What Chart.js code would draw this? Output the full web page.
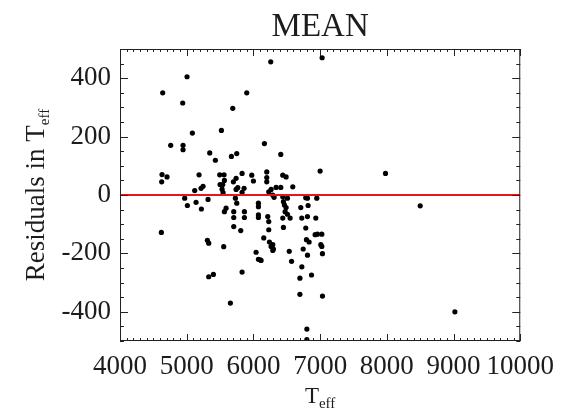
<!DOCTYPE html>
<html>
<head>
<meta charset="utf-8">
<script src="https://cdn.jsdelivr.net/npm/chart.js@4/dist/chart.umd.min.js"></script>
<style>
  html, body { margin: 0; padding: 0; background: #fff; }
  #wrap { width: 564px; height: 412px; }
</style>
</head>
<body>
<div id="wrap"><canvas id="residualChart" width="564" height="412"></canvas></div>
<script>
// --- DATA ---
const TEFF = [
  4640, 5005, 4940, 5690, 5900, 6260, 7030,
  5085, 5520, 4760, 4945, 4945, 5345, 5670, 5750, 5430, 6165, 6410,
  7000, 7980, 8500, 9020,
  4630, 4705, 4625, 5185, 5120, 5215, 5245,
  5495, 5560, 5565, 5500, 5540, 5530, 5545,
  4970, 5010, 5140, 5220, 5320,
  4620, 5310, 5330, 5555, 5590, 5565,
  5330, 5400, 5655,
  5830, 5740, 5700, 5975, 6000, 6200, 6200, 6200, 6440, 6490, 6590,
  6410, 6340, 6265, 6230, 6290, 6310, 5765, 5740, 5860, 5830,
  5730, 5750, 5705, 5705, 5705, 5865, 5865, 5810,
  6075, 6075, 6075, 6075, 6215, 6230, 6230, 6155, 6240, 6290,
  6440, 6450, 6465, 6490, 6475, 6510, 6550, 6440, 6450, 6510,
  6265, 6300, 6290, 6040, 6075, 6100, 6115, 5830, 6537, 6572,
  6710, 6810, 6820, 6950, 6725, 6810, 6935, 6785, 6795, 6835,
  6925, 6960, 7025, 7010, 6785,
  6746, 6811, 7025, 7035, 6726, 6697, 6871, 6697, 7035, 6801, 6801
];
const RESID = [
  350, 405, 315, 297, 350, 456, 470,
  212, 221, 170, 170, 155, 144, 132, 142, 119, 176, 139,
  82, 74, -37, -400,
  70, 62, 45, 69, 15, 23, 30,
  69, 69, 50, 36, 36, 20, 8,
  -11, -36, -25, -48, -15,
  -128, -155, -165, -177, -45, -57,
  -280, -272, -370,
  74, 57, 45, 68, 48, 79, 60, 45, 68, 62, 28,
  26, 26, 19, 11, 0, -8, 25, 19, 23, 9,
  -11, -28, -57, -77, -108, -57, -77, -122,
  -28, -40, -68, -77, -74, -91, -119, -147, -161, -170,
  -6, -23, -34, -43, -57, -66, -79, -79, -111, -11,
  -176, -185, -190, -196, -220, -222, -224, -264, -193, -227,
  -43, -11, -36, -11, -79, -74, -79, -113, -153, -161,
  -136, -134, -134, -170, -9,
  -185, -206, -176, -201, -246, -285, -274, -340, -346, -459, -495
];
const ZERO_LINE_X = [4000, 10000];
const ZERO_LINE_Y = [0, 0];
const X_TICKS = [4000, 5000, 6000, 7000, 8000, 9000, 10000];
const Y_TICKS = [-400, -200, 0, 200, 400];
const X_MINOR_STEP = 100;
const Y_MINOR_STEP = 50;

const SERIF = "'Liberation Serif', 'Times New Roman', serif";
const INK = '#1c1c1c';

// T con subíndice "eff"
function drawTeff(ctx, x, y, prefix, size, subSize, align) {
  ctx.font = `${size}px ${SERIF}`;
  const wMain = ctx.measureText(prefix + 'T').width;
  ctx.font = `${subSize}px ${SERIF}`;
  const wSub = ctx.measureText('eff').width;
  const start = align === 'center' ? x - (wMain + wSub) / 2 : x;
  ctx.textAlign = 'left';
  ctx.textBaseline = 'alphabetic';
  ctx.font = `${size}px ${SERIF}`;
  ctx.fillText(prefix + 'T', start, y);
  ctx.font = `${subSize}px ${SERIF}`;
  ctx.fillText('eff', start + wMain, y + 5);
}

// --- MARCO, MARCAS Y TÍTULOS ---
const idlFrame = {
  id: 'idlFrame',
  afterDraw(chart) {
    const { ctx, chartArea: a, scales } = chart;
    const xs = scales.x, ys = scales.y;
    ctx.save();
    ctx.strokeStyle = '#222';
    ctx.lineWidth = 1;
    ctx.strokeRect(a.left + 0.5, a.top + 0.5, a.right - a.left - 1, a.bottom - a.top - 1);

    ctx.beginPath();
    for (let v = xs.min; v <= xs.max; v += X_MINOR_STEP) {
      const px = Math.round(xs.getPixelForValue(v)) + 0.5;
      const len = X_TICKS.includes(v) ? 7 : 3;
      ctx.moveTo(px, a.bottom); ctx.lineTo(px, a.bottom - len);
      ctx.moveTo(px, a.top); ctx.lineTo(px, a.top + len);
    }
    for (let v = ys.min; v <= ys.max; v += Y_MINOR_STEP) {
      const py = Math.round(ys.getPixelForValue(v)) + 0.5;
      const len = Y_TICKS.includes(v) ? 8 : 4;
      ctx.moveTo(a.left, py); ctx.lineTo(a.left + len, py);
      ctx.moveTo(a.right, py); ctx.lineTo(a.right - len, py);
    }
    ctx.stroke();

    ctx.fillStyle = INK;
    ctx.font = `33px ${SERIF}`;
    ctx.textAlign = 'center';
    ctx.textBaseline = 'alphabetic';
    ctx.fillText('MEAN', (a.left + a.right) / 2, 36);

    drawTeff(ctx, (a.left + a.right) / 2, 403, '', 23, 15, 'center');

    ctx.translate(44, (a.top + a.bottom) / 2);
    ctx.rotate(-Math.PI / 2);
    drawTeff(ctx, 0, 0, 'Residuals in ', 27, 15, 'center');
    ctx.restore();
  }
};

const points = TEFF.map((t, i) => ({ x: t, y: RESID[i] }));
const zeroLine = ZERO_LINE_X.map((t, i) => ({ x: t, y: ZERO_LINE_Y[i] }));

new Chart(document.getElementById('residualChart').getContext('2d'), {
  type: 'scatter',
  data: {
    datasets: [
      {
        label: 'cero',
        data: zeroLine,
        showLine: true,
        borderColor: '#e5161e',
        borderWidth: 2,
        pointRadius: 0,
        order: 0
      },
      {
        label: 'MEAN',
        data: points,
        backgroundColor: '#000',
        borderWidth: 0,
        pointRadius: 2.6,
        order: 1
      }
    ]
  },
  options: {
    responsive: false,
    animation: false,
    layout: { padding: { left: 0, right: 41, top: 49, bottom: 0 } },
    plugins: { legend: { display: false }, tooltip: { enabled: false } },
    scales: {
      x: {
        type: 'linear',
        min: 4000,
        max: 10000,
        afterBuildTicks: s => { s.ticks = X_TICKS.map(v => ({ value: v })); },
        afterFit: s => { s.height = 71; },
        grid: { display: false, drawTicks: false },
        border: { display: false },
        ticks: {
          color: INK, font: { family: SERIF, size: 27 }, padding: 10,
          maxRotation: 0, autoSkip: false, callback: v => String(v)
        }
      },
      y: {
        type: 'linear',
        min: -500,
        max: 500,
        afterBuildTicks: s => { s.ticks = Y_TICKS.map(v => ({ value: v })); },
        afterFit: s => { s.width = 120; },
        grid: { display: false, drawTicks: false },
        border: { display: false },
        ticks: { color: INK, font: { family: SERIF, size: 27 }, padding: 9, callback: v => String(v) }
      }
    }
  },
  plugins: [idlFrame]
});
</script>
</body>
</html>
